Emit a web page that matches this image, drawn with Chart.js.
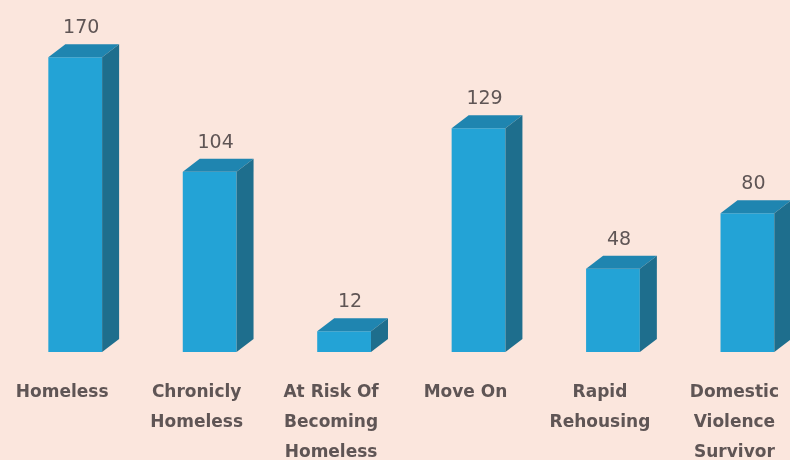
<!DOCTYPE html>
<html>
<head>
<meta charset="utf-8">
<script src="https://cdn.jsdelivr.net/npm/chart.js@4/dist/chart.umd.min.js"></script>
<style>
  html, body { margin: 0; padding: 0; background: #FBE6DD; overflow: hidden; }
  #wrap { width: 790px; height: 460px; overflow: hidden; }
  canvas { display: block; }
</style>
</head>
<body>
<div id="wrap"><canvas id="grafico" width="818" height="460"></canvas></div>
<script>
// dados do gráfico
const categorias = [
    'Homeless',
    ['Chronicly', 'Homeless'],
    ['At Risk Of', 'Becoming', 'Homeless'],
    'Move On',
    ['Rapid', 'Rehousing'],
    ['Domestic', 'Violence', 'Survivor']
];
const valores = [170, 104, 12, 129, 48, 80];

const corFrente = '#23A3D6';
const corTopo = '#1F85B0';
const corLado = '#1E6E8D';
const corTexto = '#5F5555';

// desenha topo e lateral das barras para o efeito 3D
const barras3d = {
    id: 'barras3d',
    afterDatasetsDraw(chart) {
        const ctx = chart.ctx;
        const dx = 17, dy = 13;
        chart.getDatasetMeta(0).data.forEach((bar, i) => {
            const p = bar.getProps(['x', 'y', 'base', 'width'], true);
            const esq = p.x - p.width / 2;
            const dir = p.x + p.width / 2;
            ctx.save();
            ctx.fillStyle = corTopo;
            ctx.beginPath();
            ctx.moveTo(esq, p.y);
            ctx.lineTo(esq + dx, p.y - dy);
            ctx.lineTo(dir + dx, p.y - dy);
            ctx.lineTo(dir, p.y);
            ctx.closePath();
            ctx.fill();
            ctx.fillStyle = corLado;
            ctx.beginPath();
            ctx.moveTo(dir, p.y);
            ctx.lineTo(dir + dx, p.y - dy);
            ctx.lineTo(dir + dx, p.base - dy);
            ctx.lineTo(dir, p.base);
            ctx.closePath();
            ctx.fill();

            // rótulo de valor
            ctx.fillStyle = corTexto;
            ctx.font = '19px "DejaVu Sans"';
            ctx.textAlign = 'center';
            ctx.textBaseline = 'middle';
            ctx.fillText(String(valores[i]), p.x + 6, p.y - 29);
            ctx.restore();
        });
    }
};

new Chart(document.getElementById('grafico').getContext('2d'), {
    type: 'bar',
    data: {
        labels: categorias,
        datasets: [{
            data: valores,
            backgroundColor: corFrente,
            barPercentage: 0.4,
            categoryPercentage: 1
        }]
    },
    options: {
        responsive: false,
        animation: false,
        layout: { padding: { left: 8, right: 0, top: 0, bottom: 0 } },
        plugins: { legend: { display: false }, tooltip: { enabled: false } },
        scales: {
            x: {
                grid: { display: false, drawTicks: false },
                border: { display: false },
                ticks: {
                    color: corTexto,
                    padding: 26,
                    labelOffset: -13,
                    maxRotation: 0,
                    autoSkip: false,
                    font: { family: 'DejaVu Sans', size: 17, weight: 'bold', lineHeight: 1.75 }
                },
                afterFit: s => { s.height = 108; }
            },
            y: {
                display: false,
                min: 0,
                max: 203
            }
        }
    },
    plugins: [barras3d]
});
</script>
</body>
</html>
